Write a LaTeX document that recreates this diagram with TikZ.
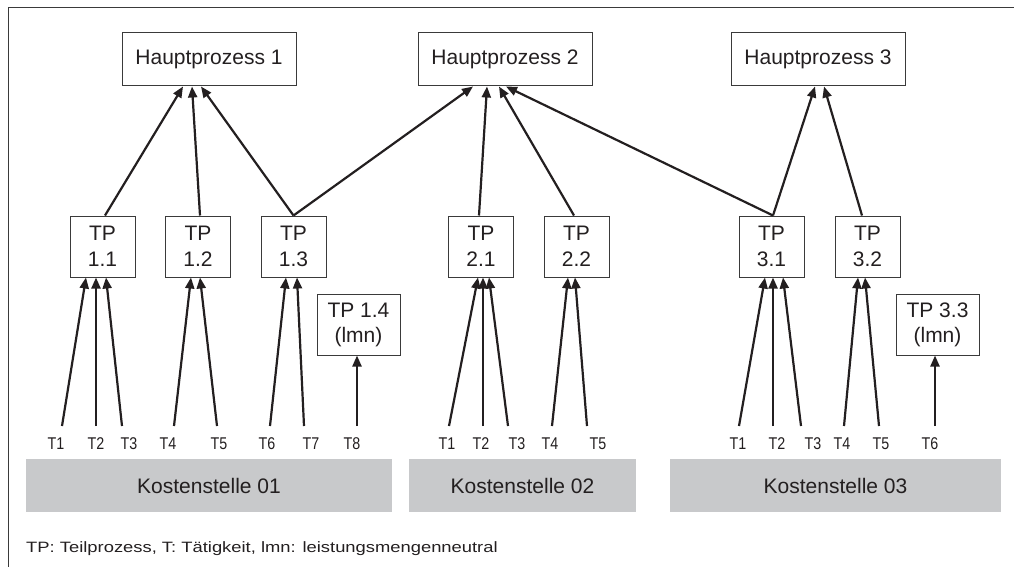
\documentclass[tikz,border=0pt]{standalone}
\usepackage{fontspec}
\setmainfont{Liberation Sans}
\usetikzlibrary{arrows.meta}
\definecolor{ink}{HTML}{231F20}
\definecolor{rule}{HTML}{3A3A3A}
\definecolor{kgray}{HTML}{C8C9CB}
\tikzset{
  hpbox/.style={draw=rule, line width=1pt, minimum width=174, minimum height=53,
    inner sep=0pt, text=ink, font=\fontsize{21}{26}\selectfont},
  tpbox/.style={draw=rule, line width=1pt, minimum width=65, minimum height=61,
    inner sep=0pt, align=center, text=ink, font=\fontsize{21}{26}\selectfont},
  lmnbox/.style={tpbox, minimum width=83, font=\fontsize{21}{25}\selectfont},
  ksbox/.style={fill=kgray, minimum height=53, inner sep=0pt, text=ink,
    font=\fontsize{21}{26}\selectfont},
  tlabel/.style={inner sep=0pt, text=ink, font=\fontsize{17}{19}\selectfont},
  arr/.style={draw=ink, line width=2.2pt,
    -{Triangle[length=11pt,width=9pt]}},
  frameline/.style={draw=rule, line width=1.4pt},
}
\newcommand{\tl}[1]{\scalebox{0.84}[1]{#1}}
\begin{document}
\begin{tikzpicture}[x=1pt,y=-1pt]
\useasboundingbox (0,0) rectangle (1014,567);
% open frame: top and left edge
\coordinate (fr0) at (1014,7.5);
\coordinate (fr1) at (8.5,7.5);
\coordinate (fr2) at (8.5,567);
\draw[frameline] (fr0) -- (fr1) -- (fr2);

% main processes
\node[hpbox] (hp1) at (209,59.5) {Hauptprozess 1};
\node[hpbox] (hp2) at (505,59.5) {Hauptprozess 2};
\node[hpbox] (hp3) at (818,59.5) {Hauptprozess 3};

% sub-processes
\node[tpbox] (tp11) at (102.5,246.5) {TP\\1.1};
\node[tpbox] (tp12) at (198,246.5) {TP\\1.2};
\node[tpbox] (tp13) at (293.5,246.5) {TP\\1.3};
\node[tpbox] (tp21) at (481,246.5) {TP\\2.1};
\node[tpbox] (tp22) at (576.5,246.5) {TP\\2.2};
\node[tpbox] (tp31) at (771.5,246.5) {TP\\3.1};
\node[tpbox] (tp32) at (867.5,246.5) {TP\\3.2};
\node[lmnbox] (tp14) at (358.5,324.5) {TP 1.4\\(lmn)};
\node[lmnbox] (tp33) at (937.5,324.5) {TP 3.3\\(lmn)};

% cost centres
\node[ksbox, minimum width=366] (ks1) at (209,485.5) {Kostenstelle 01};
\node[ksbox, minimum width=227] (ks2) at (522.5,485.5) {Kostenstelle 02};
\node[ksbox, minimum width=331] (ks3) at (835.5,485.5) {Kostenstelle 03};

% activities, cost centre 01
\node[tlabel] (a1) at (56,444) {\tl{T1}};
\node[tlabel] (a2) at (96,444) {\tl{T2}};
\node[tlabel] (a3) at (129,444) {\tl{T3}};
\node[tlabel] (a4) at (168,444) {\tl{T4}};
\node[tlabel] (a5) at (219,444) {\tl{T5}};
\node[tlabel] (a6) at (267,444) {\tl{T6}};
\node[tlabel] (a7) at (311,444) {\tl{T7}};
\node[tlabel] (a8) at (352,444) {\tl{T8}};
\coordinate (fa1) at (62,426);
\coordinate (fa2) at (96,426);
\coordinate (fa3) at (122,426);
\coordinate (fa4) at (174,426);
\coordinate (fa5) at (217,426);
\coordinate (fa6) at (270,426);
\coordinate (fa7) at (304,426);
\coordinate (fa8) at (357,426);

% activities, cost centre 02
\node[tlabel] (b1) at (447,444) {\tl{T1}};
\node[tlabel] (b2) at (481,444) {\tl{T2}};
\node[tlabel] (b3) at (517,444) {\tl{T3}};
\node[tlabel] (b4) at (550,444) {\tl{T4}};
\node[tlabel] (b5) at (598,444) {\tl{T5}};
\coordinate (fb1) at (449,426);
\coordinate (fb2) at (483,426);
\coordinate (fb3) at (508,426);
\coordinate (fb4) at (552,426);
\coordinate (fb5) at (587,426);

% activities, cost centre 03
\node[tlabel] (c1) at (738,444) {\tl{T1}};
\node[tlabel] (c2) at (777,444) {\tl{T2}};
\node[tlabel] (c3) at (813,444) {\tl{T3}};
\node[tlabel] (c4) at (842,444) {\tl{T4}};
\node[tlabel] (c5) at (881,444) {\tl{T5}};
\node[tlabel] (c6) at (930,444) {\tl{T6}};
\coordinate (fc1) at (739,426);
\coordinate (fc2) at (773,426);
\coordinate (fc3) at (801,426);
\coordinate (fc4) at (844,426);
\coordinate (fc5) at (879,426);
\coordinate (fc6) at (935,426);

% activities -> sub-processes
\draw[arr] (fa1) -- ([xshift=-16.5]tp11.south);
\draw[arr] (fa2) -- ([xshift=-6.5]tp11.south);
\draw[arr] (fa3) -- ([xshift=3.5]tp11.south);
\draw[arr] (fa4) -- ([xshift=-7]tp12.south);
\draw[arr] (fa5) -- ([xshift=2]tp12.south);
\draw[arr] (fa6) -- ([xshift=-7.5]tp13.south);
\draw[arr] (fa7) -- ([xshift=3.5]tp13.south);
\draw[arr] (fa8) -- ([xshift=-1.5]tp14.south);
\draw[arr] (fb1) -- ([xshift=-3]tp21.south);
\draw[arr] (fb2) -- ([xshift=2]tp21.south);
\draw[arr] (fb3) -- ([xshift=8]tp21.south);
\draw[arr] (fb4) -- ([xshift=-8.5]tp22.south);
\draw[arr] (fb5) -- ([xshift=-1.5]tp22.south);
\draw[arr] (fc1) -- ([xshift=-6.5]tp31.south);
\draw[arr] (fc2) -- ([xshift=1.5]tp31.south);
\draw[arr] (fc3) -- ([xshift=11.5]tp31.south);
\draw[arr] (fc4) -- ([xshift=-9.5]tp32.south);
\draw[arr] (fc5) -- ([xshift=-2.5]tp32.south);
\draw[arr] (fc6) -- ([xshift=-2.5]tp33.south);

% sub-processes -> main processes
\draw[arr] ([xshift=2.5]tp11.north) -- ([xshift=-26]hp1.south);
\draw[arr] ([xshift=2]tp12.north) -- ([xshift=-17]hp1.south);
\draw[arr] (tp13.north) -- ([xshift=-8]hp1.south);
\draw[arr] (tp13.north) -- ([xshift=-32]hp2.south);
\draw[arr] ([xshift=-2]tp21.north) -- ([xshift=-18]hp2.south);
\draw[arr] ([xshift=-2.5]tp22.north) -- ([xshift=-6]hp2.south);
\draw[arr] ([xshift=1.5]tp31.north) -- ([xshift=1]hp2.south);
\draw[arr] ([xshift=1.5]tp31.north) -- ([xshift=-3]hp3.south);
\draw[arr] ([xshift=-5.5]tp32.north) -- ([xshift=6]hp3.south);

% legend
\node[anchor=base west, inner sep=0pt, text=ink, font=\fontsize{15}{18}\selectfont]
  (legend) at (26,552) {\scalebox{1.225}[1]{TP: Teilprozess, T: Tätigkeit, lmn: leistungsmengenneutral}};
\end{tikzpicture}
\end{document}
